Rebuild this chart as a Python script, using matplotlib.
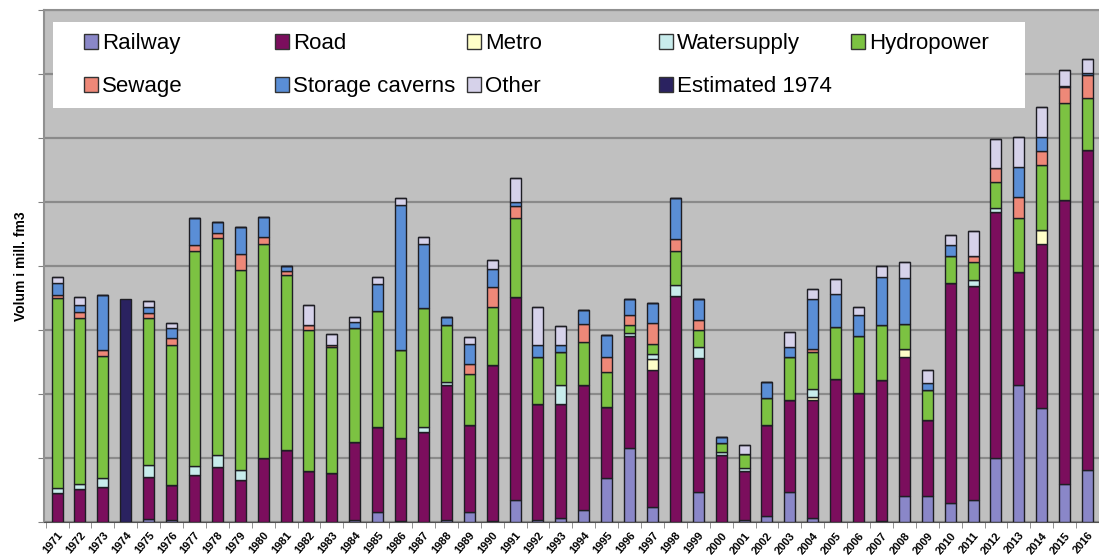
import numpy as np
import matplotlib
matplotlib.use('Agg')
import matplotlib.pyplot as plt
from matplotlib.patches import Rectangle, Patch

plt.rcParams['font.family'] = ['Liberation Sans', 'DejaVu Sans']

# data (mill. fm3)
years = list(range(1971, 2017))

railway = [0, 0, 0, 0, 0.05, 0.03, 0, 0, 0, 0, 0, 0, 0, 0.03, 0.15, 0.02, 0, 0.03, 0.15, 0.02,
           0.34, 0.03, 0.07, 0.19, 0.68, 1.15, 0.24, 0, 0.47, 0, 0.03, 0.10, 0.47, 0.06, 0, 0,
           0.02, 0.40, 0.40, 0.29, 0.34, 1.00, 2.14, 1.78, 0.60, 0.81]
road = [0.45, 0.52, 0.55, 0, 0.66, 0.55, 0.74, 0.86, 0.66, 1.00, 1.12, 0.79, 0.76, 1.22, 1.34,
        1.29, 1.40, 2.11, 1.36, 2.43, 3.18, 1.82, 1.78, 1.95, 1.12, 1.75, 2.14, 3.53, 2.09, 1.05,
        0.76, 1.42, 1.44, 1.85, 2.24, 2.01, 2.20, 2.18, 1.19, 3.44, 3.34, 3.85, 1.77, 2.56, 4.43, 5.00]
metro = [0, 0, 0, 0, 0, 0, 0, 0, 0, 0, 0, 0, 0, 0, 0, 0, 0, 0, 0, 0,
         0, 0, 0, 0, 0, 0, 0.16, 0, 0, 0, 0, 0, 0, 0.04, 0, 0,
         0, 0.13, 0, 0, 0, 0, 0, 0.22, 0, 0]
watersupply = [0.08, 0.08, 0.13, 0, 0.18, 0, 0.13, 0.19, 0.16, 0, 0, 0, 0, 0, 0, 0, 0.08, 0.05, 0, 0,
               0, 0, 0.29, 0, 0, 0.05, 0.08, 0.17, 0.18, 0.05, 0.05, 0, 0, 0.13, 0, 0,
               0, 0, 0, 0, 0.10, 0.05, 0, 0, 0, 0]
hydropower = [2.97, 2.58, 1.92, 0, 2.29, 2.19, 3.36, 3.38, 3.12, 3.35, 2.74, 2.21, 1.98, 1.78, 1.80,
              1.38, 1.87, 0.89, 0.81, 0.91, 1.23, 0.73, 0.52, 0.68, 0.55, 0.13, 0.16, 0.54, 0.26, 0.13,
              0.23, 0.41, 0.67, 0.57, 0.81, 0.89, 0.86, 0.39, 0.47, 0.42, 0.29, 0.42, 0.84, 1.02, 1.51, 0.81]
sewage = [0.05, 0.10, 0.09, 0, 0.08, 0.11, 0.10, 0.08, 0.24, 0.11, 0.06, 0.08, 0.03, 0, 0, 0, 0, 0,
          0.15, 0.31, 0.18, 0, 0, 0.28, 0.23, 0.15, 0.33, 0.18, 0.16, 0, 0, 0, 0, 0.05, 0, 0,
          0, 0, 0, 0, 0.08, 0.21, 0.33, 0.21, 0.26, 0.36]
storage = [0.18, 0.11, 0.86, 0, 0.10, 0.15, 0.42, 0.17, 0.43, 0.31, 0.08, 0, 0, 0.10, 0.43, 2.26,
           1.00, 0.13, 0.31, 0.28, 0.07, 0.19, 0.10, 0.21, 0.34, 0.26, 0.31, 0.65, 0.33, 0.10, 0,
           0.26, 0.16, 0.79, 0.52, 0.33, 0.75, 0.71, 0.11, 0.18, 0, 0, 0.47, 0.23, 0.02, 0.04]
other = [0.10, 0.13, 0, 0, 0.10, 0.08, 0, 0, 0, 0, 0, 0.31, 0.17, 0.08, 0.11, 0.11, 0.10, 0, 0.11,
         0.14, 0.37, 0.59, 0.30, 0, 0, 0, 0, 0, 0, 0, 0.13, 0, 0.23, 0.15, 0.22, 0.13, 0.17, 0.26,
         0.20, 0.16, 0.40, 0.45, 0.47, 0.47, 0.25, 0.21]
estimated = [0, 0, 0, 3.49] + [0] * 42

labels = ['Railway', 'Road', 'Metro', 'Watersupply', 'Hydropower',
          'Sewage', 'Storage caverns', 'Other', 'Estimated 1974']
colors = ['#8a87c8', '#7b0e5d', '#ffffc8', '#c8ecec', '#7cc242',
          '#ee8878', '#5a8ed6', '#d6d2ea', '#2a2260']
series = [railway, road, metro, watersupply, hydropower, sewage, storage, other, estimated]

fig = plt.figure(figsize=(10.99, 5.55), dpi=100)
ax = fig.add_axes([44 / 1099, 33 / 555, 1 - 44 / 1099, 512 / 555])
ax.set_facecolor('#c0c0c0')

x = np.arange(len(years))
bottom = np.zeros(len(years))
for vals, c in zip(series, colors):
    vals = np.array(vals, dtype=float)
    ax.bar(x, vals, 0.48, bottom=bottom, color=c, edgecolor='#1e1e24', linewidth=1.0, zorder=3)
    bottom += vals

ax.set_xlim(-0.57, 45.3)
ax.set_ylim(0, 8)
ax.set_yticks(np.arange(0, 9, 1))
ax.set_yticklabels([])
ax.tick_params(axis='y', length=4, color='#808080')
ax.yaxis.grid(True, color='#8a8a8a', linewidth=1.6, zorder=0)

ax.set_xticks(x)
ax.set_xticklabels([str(y) for y in years], rotation=50, ha='right', rotation_mode='anchor',
                   fontsize=8, fontweight='bold')
ax.tick_params(axis='x', which='major', length=0, pad=6)
ax.set_xticks(np.arange(-0.5, 46, 1), minor=True)
ax.tick_params(axis='x', which='minor', length=4, color='#808080')

for s in ['top', 'left']:
    ax.spines[s].set_color('#909090')
    ax.spines[s].set_linewidth(1.5)
ax.spines['right'].set_visible(False)
ax.spines['bottom'].set_color('#505050')

ax.set_ylabel('Volum i mill. fm3', fontsize=10, fontweight='bold', labelpad=4)

# legend: white box + five columns
fig.patches.append(Rectangle((53 / 1099, 1 - 108 / 555), 972 / 1099, 86 / 555,
                             transform=fig.transFigure, facecolor='white', edgecolor='none', zorder=5))
handles = [Patch(facecolor=c, edgecolor='#333333', linewidth=1.0) for c in colors]
columns = [[0, 5], [1, 6], [2, 7], [3, 8], [4]]
col_x = [84, 275, 467, 659, 851]
for cx, idx in zip(col_x, columns):
    leg = fig.legend([handles[i] for i in idx], [labels[i] for i in idx],
                     loc='upper left', bbox_to_anchor=(cx / 1099, 1 - 33 / 555),
                     frameon=False, fontsize=16, handlelength=0.65, handleheight=0.65,
                     handletextpad=0.15, labelspacing=1.0, borderaxespad=0, borderpad=0)
    leg.set_zorder(6)

fig.savefig('out.png', dpi=100)
